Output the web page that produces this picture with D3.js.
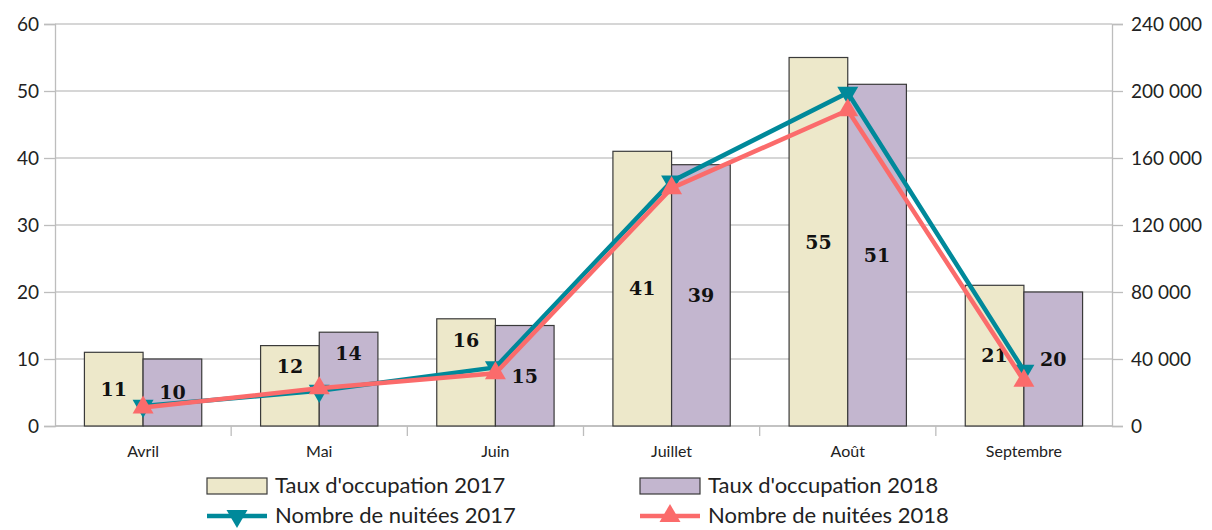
<!DOCTYPE html>
<html>
<head>
<meta charset="utf-8">
<script src="https://cdn.jsdelivr.net/npm/d3@7"></script>
<style>
  body { margin: 0; background: #fff; }
  svg text { font-family: Lato, "Open Sans", sans-serif; fill: #222; }
</style>
</head>
<body>
<div id="chart"></div>
<script>
var svgWidth = 1212, svgHeight = 530;
var margin = { top: 24, right: 100, bottom: 104, left: 55 };
var width = svgWidth - margin.left - margin.right;
var height = svgHeight - margin.top - margin.bottom;

// données
var months = ["Avril", "Mai", "Juin", "Juillet", "Août", "Septembre"];
var taux2017 = [11, 12, 16, 41, 55, 21];
var taux2018 = [10, 14, 15, 39, 51, 20];
var nuitees2017 = [12000, 21000, 35000, 146000, 199000, 33000];
var nuitees2018 = [11000, 22500, 31500, 142000, 188500, 27000];
var leftTicks = [0, 10, 20, 30, 40, 50, 60];
var rightTicks = [0, 40000, 80000, 120000, 160000, 200000, 240000];
// étiquettes déplacées vers le haut de la barre
var topLabels = ["Mai-2017", "Mai-2018", "Juin-2017"];

var colors = { b2017: "#ede8ca", b2018: "#c3b6cf", l2017: "#00899a", l2018: "#fb6b6b" };

var svg = d3.select('#chart').append("svg")
    .attr("width", svgWidth)
    .attr("height", svgHeight)
    .append("g")
    .attr("transform", "translate(" + margin.left + "," + margin.top + ")");

var x0 = d3.scaleBand().domain(months).range([0, width]);
var x1 = d3.scaleBand().domain(["2017", "2018"])
    .range([x0.bandwidth() * 0.167, x0.bandwidth() * 0.833]);
var yL = d3.scaleLinear().domain([0, 60]).range([height, 0]);
var yR = d3.scaleLinear().domain([0, 240000]).range([height, 0]);

var fr = d3.formatLocale({ decimal: ",", thousands: " ", grouping: [3], currency: ["", " €"] });
var fmt = fr.format(",d");

// grille
svg.append("g").selectAll("line")
    .data(leftTicks).enter().append("line")
    .attr("x1", 0).attr("x2", width)
    .attr("y1", function(d) { return yL(d); })
    .attr("y2", function(d) { return yL(d); })
    .attr("stroke", "#c8c8c8").attr("stroke-width", 1.3);

// axes
var axisL = svg.append("g")
    .call(d3.axisLeft(yL).tickValues(leftTicks).tickSize(11).tickPadding(5));
var axisR = svg.append("g")
    .attr("transform", "translate(" + width + ",0)")
    .call(d3.axisRight(yR).tickValues(rightTicks).tickFormat(fmt).tickSize(11).tickPadding(8));
var axisB = svg.append("g")
    .attr("transform", "translate(0," + height + ")")
    .call(d3.axisBottom(x0).tickSize(0).tickPadding(20));

svg.selectAll('.domain').style('stroke', '#bdbdbd').style('stroke-width', 1.3);
svg.selectAll('.tick line').style('stroke', '#bdbdbd').style('stroke-width', 1.3);
axisL.selectAll('text').style('font-size', '19px').style('fill', '#222');
axisR.selectAll('text').style('font-size', '19px').style('fill', '#222');
axisB.selectAll('text').style('font-size', '16px').style('fill', '#222');
axisB.select('.domain').attr("d", "M0,0H" + width);

// séparateurs de catégories
svg.append("g").selectAll("line")
    .data(months.slice(1)).enter().append("line")
    .attr("x1", function(d) { return x0(d); })
    .attr("x2", function(d) { return x0(d); })
    .attr("y1", height).attr("y2", height + 10)
    .attr("stroke", "#bdbdbd").attr("stroke-width", 1.3);

// barres
var barData = [];
months.forEach(function(m, i) {
    barData.push({ m: m, s: "2017", v: taux2017[i] });
    barData.push({ m: m, s: "2018", v: taux2018[i] });
});

svg.selectAll(".bar")
    .data(barData).enter().append("rect")
    .attr("class", "bar")
    .attr("x", function(d) { return x0(d.m) + x1(d.s); })
    .attr("y", function(d) { return yL(d.v); })
    .attr("width", x1.bandwidth())
    .attr("height", function(d) { return height - yL(d.v); })
    .attr("fill", function(d) { return d.s === "2017" ? colors.b2017 : colors.b2018; })
    .attr("stroke", "#3a3a3a").attr("stroke-width", 1.2);

// étiquettes
svg.selectAll(".label")
    .data(barData).enter().append("text")
    .attr("class", "label")
    .attr("x", function(d) { return x0(d.m) + x1(d.s) + x1.bandwidth() / 2; })
    .attr("y", function(d) {
        if (topLabels.indexOf(d.m + "-" + d.s) >= 0) return yL(d.v) + 21;
        return yL(d.v / 2);
    })
    .attr("dy", "0.36em")
    .attr("text-anchor", "middle")
    .style("font-family", "'DejaVu Serif', serif")
    .style("font-weight", "bold")
    .style("font-size", "19px")
    .style("fill", "#111")
    .text(function(d) { return d.v; });

// courbes
var cx = function(i) { return x0(months[i]) + x0.bandwidth() / 2; };
var line = d3.line()
    .x(function(d, i) { return cx(i); })
    .y(function(d) { return yR(d); });

var triangle = d3.symbol().type(d3.symbolTriangle).size(190);

function drawSeries(vals, color, down) {
    svg.append("path")
        .datum(vals)
        .attr("fill", "none")
        .attr("stroke", color)
        .attr("stroke-width", 4.5)
        .attr("d", line);
    svg.selectAll(null)
        .data(vals).enter().append("path")
        .attr("d", triangle)
        .attr("fill", color)
        .attr("transform", function(d, i) {
            return "translate(" + cx(i) + "," + yR(d) + ")" + (down ? " rotate(180)" : "");
        });
}
drawSeries(nuitees2017, colors.l2017, true);
drawSeries(nuitees2018, colors.l2018, false);

// légende
var legend = d3.select("svg").append("g");
var items = [
    { t: "Taux d'occupation 2017", type: "bar", c: colors.b2017, x: 207, y: 486 },
    { t: "Taux d'occupation 2018", type: "bar", c: colors.b2018, x: 640, y: 486 },
    { t: "Nombre de nuitées 2017", type: "line", c: colors.l2017, x: 207, y: 516, down: true },
    { t: "Nombre de nuitées 2018", type: "line", c: colors.l2018, x: 640, y: 516, down: false }
];
items.forEach(function(it) {
    var g = legend.append("g");
    if (it.type === "bar") {
        g.append("rect")
            .attr("x", it.x).attr("y", it.y - 8)
            .attr("width", 60).attr("height", 16)
            .attr("fill", it.c).attr("stroke", "#3a3a3a").attr("stroke-width", 1.2);
    } else {
        g.append("line")
            .attr("x1", it.x).attr("x2", it.x + 60)
            .attr("y1", it.y).attr("y2", it.y)
            .attr("stroke", it.c).attr("stroke-width", 4.5);
        g.append("path")
            .attr("d", triangle)
            .attr("fill", it.c)
            .attr("transform", "translate(" + (it.x + 30) + "," + it.y + ")" + (it.down ? " rotate(180)" : ""));
    }
    g.append("text")
        .attr("x", it.x + 68).attr("y", it.y)
        .attr("dy", "0.34em")
        .style("font-size", "22px")
        .text(it.t);
});
</script>
</body>
</html>
